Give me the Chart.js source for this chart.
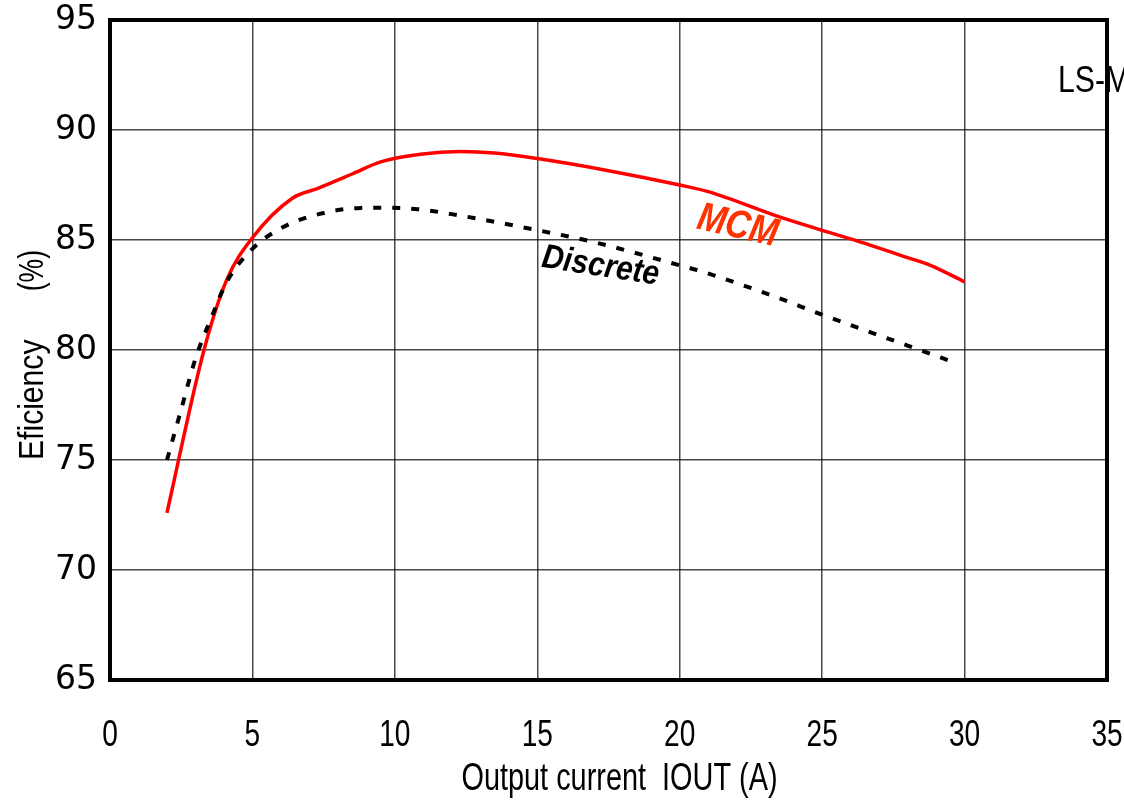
<!DOCTYPE html>
<html lang="en">
<head>
    <meta charset="UTF-8">
    <title>Efficiency vs Output current</title>
    <script src="https://cdn.jsdelivr.net/npm/chart.js"></script>
    <style>
        html, body { margin: 0; padding: 0; background: #fff; }
        #wrap { width: 1124px; height: 809px; }
    </style>
</head>
<body>
    <div id="wrap"><canvas id="grafico"></canvas></div>

    <script>
        // Output current (A) and efficiency (%) for each converter
        const mcmCorrente = [2.0, 3.3, 4.1, 5.0, 6.4, 7.3, 8.5, 9.5, 10.9, 12.3, 13.5, 15.0, 17.5, 20.0, 21.0, 23.5, 25.0, 26.0, 28.0, 28.8, 30.0];
        const mcmEficiencia = [72.6, 80.0, 83.2, 85.1, 86.9, 87.35, 88.0, 88.55, 88.9, 89.02, 88.95, 88.7, 88.15, 87.5, 87.2, 86.05, 85.44, 85.05, 84.2, 83.85, 83.1];

        const discCorrente = [2.0, 2.5, 3.0, 3.6, 4.1, 5.0, 6.1, 7.4, 8.8, 9.5, 10.8, 12.2, 14.8, 17.0, 20.0, 20.7, 23.5, 24.8, 28.0, 29.5];
        const discEficiencia = [75.0, 77.3, 79.6, 81.6, 83.1, 84.6, 85.6, 86.2, 86.46, 86.47, 86.4, 86.13, 85.5, 84.9, 83.85, 83.6, 82.35, 81.7, 80.2, 79.5];

        const ticksX = [0, 5, 10, 15, 20, 25, 30, 35];
        const ticksY = [65, 70, 75, 80, 85, 90, 95];

        // curve labels, placed in data units
        const rotulos = [
            { texto: 'MCM', x: 22.03, y: 85.61, angulo: 13, cor: '#ff3300', tamanho: 40, escala: 0.85 },
            { texto: 'Discrete', x: 17.22, y: 83.79, angulo: 8.8, cor: '#000000', tamanho: 34, escala: 0.88 }
        ];

        function pares(xs, ys) {
            return xs.map((x, i) => ({ x: x, y: ys[i] }));
        }

        // text squeezed horizontally, like the narrow face of the original plot
        function texto(ctx, str, x, y, o) {
            ctx.save();
            ctx.translate(x, y);
            if (o.rot) ctx.rotate(o.rot * Math.PI / 180);
            ctx.scale(o.escala || 1, 1);
            ctx.font = o.fonte;
            ctx.fillStyle = o.cor || '#000';
            ctx.textAlign = o.align || 'left';
            ctx.textBaseline = o.base || 'alphabetic';
            ctx.fillText(str, 0, 0);
            ctx.restore();
        }

        const arial = '"Liberation Sans", Arial, sans-serif';

        const extras = {
            id: 'extras',
            afterDraw(chart) {
                const ctx = chart.ctx;
                const sx = chart.scales.x;
                const sy = chart.scales.y;
                const area = chart.chartArea;

                // x tick labels
                ticksX.forEach(v => {
                    texto(ctx, String(v), sx.getPixelForValue(v), area.bottom + 66,
                        { fonte: '36px ' + arial, escala: 0.78, align: 'center' });
                });

                // axis titles
                texto(ctx, 'Output current  IOUT (A)', (area.left + area.right) / 2 + 11, area.bottom + 110,
                    { fonte: '38px ' + arial, escala: 0.76, align: 'center' });
                texto(ctx, 'Eficiency', 43, 460, { fonte: '35px ' + arial, escala: 0.86, rot: -90 });
                texto(ctx, '(%)', 43, 250, { fonte: '35px ' + arial, escala: 0.76, rot: -90, align: 'right' });

                // labels on the curves
                rotulos.forEach(r => {
                    texto(ctx, r.texto, sx.getPixelForValue(r.x), sy.getPixelForValue(r.y), {
                        fonte: 'italic bold ' + r.tamanho + 'px ' + arial,
                        escala: r.escala, rot: r.angulo, cor: r.cor, align: 'center', base: 'middle'
                    });
                });

                texto(ctx, 'LS-MCM', 1058, 92, { fonte: '36px ' + arial, escala: 0.84 });

                // heavy frame round the plot area
                ctx.save();
                ctx.strokeStyle = '#000';
                ctx.lineWidth = 4;
                ctx.strokeRect(area.left, area.top, area.right - area.left, area.bottom - area.top);
                ctx.restore();
            }
        };

        new Chart(document.getElementById('grafico'), {
            type: 'line',
            data: {
                datasets: [
                    {
                        label: 'Discrete',
                        data: pares(discCorrente, discEficiencia),
                        borderColor: '#000000',
                        borderWidth: 4,
                        borderDash: [8, 11],
                        borderCapStyle: 'butt',
                        cubicInterpolationMode: 'monotone',
                        pointRadius: 0,
                        fill: false
                    },
                    {
                        label: 'MCM',
                        data: pares(mcmCorrente, mcmEficiencia),
                        borderColor: '#ff0000',
                        borderWidth: 3.5,
                        cubicInterpolationMode: 'monotone',
                        pointRadius: 0,
                        fill: false
                    }
                ]
            },
            options: {
                responsive: true,
                maintainAspectRatio: false,
                animation: false,
                layout: { padding: { top: 20, right: 17, left: 0, bottom: 0 } },
                plugins: {
                    legend: { display: false },
                    tooltip: { enabled: false }
                },
                scales: {
                    x: {
                        type: 'linear',
                        min: 0,
                        max: 35,
                        afterFit: s => {
                            s.height = 129;
                            s.paddingLeft = 0;
                            s.paddingRight = 0;
                        },
                        afterBuildTicks: s => { s.ticks = ticksX.map(v => ({ value: v })); },
                        grid: { color: 'rgba(0,0,0,0.72)', lineWidth: 1.5, drawTicks: false },
                        border: { display: false },
                        ticks: { display: false }
                    },
                    y: {
                        min: 65,
                        max: 95,
                        afterFit: s => {
                            s.width = 110;
                            s.paddingTop = 0;
                            s.paddingBottom = 0;
                        },
                        afterBuildTicks: s => { s.ticks = ticksY.map(v => ({ value: v })); },
                        grid: { color: 'rgba(0,0,0,0.72)', lineWidth: 1.5, drawTicks: false },
                        border: { display: false },
                        ticks: {
                            padding: 13,
                            color: '#000',
                            font: { family: '"DejaVu Sans", sans-serif', size: 33 }
                        }
                    }
                }
            },
            plugins: [extras]
        });
    </script>
</body>
</html>
